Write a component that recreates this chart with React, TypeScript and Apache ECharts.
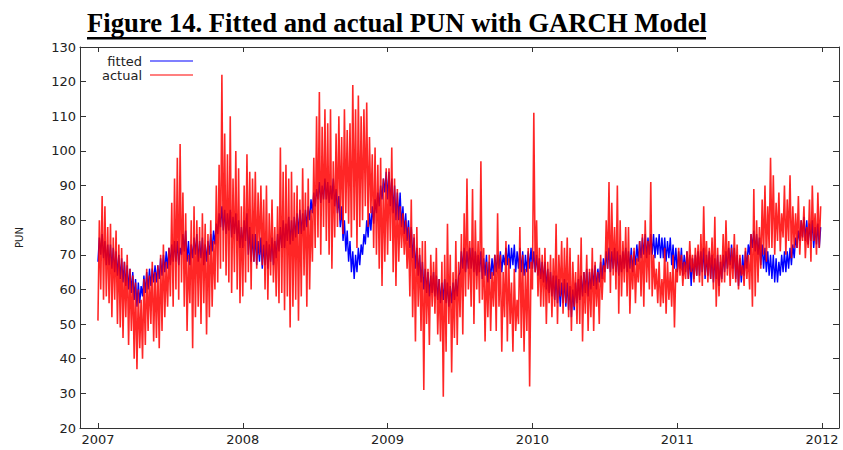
import * as echarts from "echarts";
import { useEffect, useRef } from "react";

// weekly values, one low (weekend) and one high (weekday) per week
const years = [2007, 2008, 2009, 2010, 2011];
const yearTicks = [2007, 2008, 2009, 2010, 2011, 2012];

const actualHi2007 = [80, 87, 84, 78, 79, 75, 77, 73, 72, 68, 70, 66, 64, 62, 60, 57, 63, 66, 64, 68, 65, 67, 70, 73, 68, 72, 85, 92, 98, 102, 88, 82, 70, 80, 84, 80, 78, 82, 79, 76, 80, 74, 90, 96, 122, 105, 99, 110, 92, 100, 95, 84];
const actualLo2007 = [51, 60, 57, 58, 56, 52, 57, 50, 49, 46, 52, 44, 48, 40, 37, 43, 40, 44, 48, 50, 45, 46, 43, 48, 52, 55, 58, 55, 60, 57, 62, 55, 48, 56, 43, 52, 55, 50, 56, 47, 52, 55, 60, 62, 66, 68, 64, 62, 59, 65, 60, 56];
const actualHi2008 = [90, 99, 94, 92, 94, 88, 90, 86, 90, 82, 86, 78, 84, 101, 94, 96, 92, 94, 88, 90, 86, 95, 88, 92, 83, 98, 110, 117, 107, 112, 108, 112, 97, 105, 110, 104, 112, 106, 108, 119, 112, 116, 110, 112, 114, 104, 99, 101, 96, 98, 92, 95];
const actualLo2008 = [58, 62, 65, 60, 68, 66, 70, 67, 60, 57, 64, 62, 58, 56, 59, 54, 58, 49, 55, 57, 51, 58, 64, 55, 60, 68, 72, 75, 70, 78, 74, 70, 66, 75, 78, 80, 76, 82, 79, 75, 80, 72, 78, 80, 84, 78, 82, 72, 70, 66, 61, 68];
const actualHi2009 = [95, 101, 92, 89, 84, 82, 80, 78, 86, 76, 78, 72, 74, 74, 66, 70, 68, 72, 63, 68, 70, 79, 70, 65, 74, 68, 76, 82, 92, 74, 89, 80, 74, 97, 72, 68, 70, 65, 70, 82, 70, 65, 74, 69, 62, 66, 57, 78, 70, 66, 72, 68];
const actualLo2009 = [70, 74, 65, 61, 68, 72, 70, 66, 58, 52, 45, 55, 48, 31, 50, 44, 55, 53, 47, 45, 29, 42, 50, 36, 46, 44, 52, 47, 58, 60, 55, 50, 60, 56, 57, 45, 52, 48, 55, 48, 55, 42, 52, 45, 50, 42, 48, 50, 46, 42, 48, 32];
const actualHi2010 = [111, 80, 72, 70, 72, 68, 70, 69, 79, 70, 74, 72, 75, 72, 68, 65, 70, 75, 65, 70, 66, 72, 68, 65, 70, 67, 80, 91, 85, 78, 90, 80, 74, 78, 78, 70, 72, 69, 74, 76, 80, 74, 91, 70, 66, 68, 63, 72, 68, 65, 70, 66];
const actualLo2010 = [60, 65, 58, 55, 55, 50, 56, 52, 55, 50, 58, 53, 56, 52, 48, 55, 50, 50, 45, 53, 48, 52, 48, 55, 50, 57, 62, 66, 59, 64, 60, 53, 58, 62, 58, 53, 60, 56, 62, 58, 55, 62, 60, 58, 60, 56, 55, 56, 53, 57, 55, 49];
const actualHi2011 = [72, 70, 68, 71, 74, 70, 72, 73, 76, 84, 74, 72, 75, 81, 72, 70, 76, 80, 74, 72, 76, 73, 70, 67, 72, 70, 76, 89, 80, 78, 86, 90, 84, 98, 93, 85, 88, 82, 90, 86, 93, 84, 82, 87, 80, 84, 78, 86, 90, 82, 88, 84];
const actualLo2011 = [62, 64, 61, 63, 63, 65, 62, 64, 62, 61, 64, 62, 63, 60, 55, 58, 62, 62, 64, 61, 63, 62, 60, 64, 61, 63, 60, 55, 58, 62, 66, 70, 68, 72, 72, 70, 74, 71, 75, 70, 74, 69, 72, 72, 70, 74, 69, 72, 68, 74, 70, 72];

const fittedHi2007 = [75, 76, 74, 73, 73, 72, 71, 70, 69, 68, 67, 66, 65, 63, 62, 61, 64, 65, 66, 66, 67, 67, 69, 70, 71, 72, 73, 74, 74, 72, 76, 77, 74, 73, 75, 76, 74, 75, 73, 74, 76, 77, 79, 82, 84, 83, 82, 83, 81, 82, 80, 78];
const fittedLo2007 = [68, 70, 69, 67, 67, 66, 65, 64, 63, 62, 61, 60, 59, 57, 55, 56, 58, 59, 60, 61, 62, 62, 63, 64, 65, 66, 67, 68, 68, 67, 70, 71, 68, 67, 69, 70, 68, 69, 67, 68, 70, 71, 73, 76, 78, 77, 76, 77, 75, 76, 74, 72];
const fittedHi2008 = [80, 82, 78, 76, 76, 74, 75, 73, 74, 73, 75, 74, 76, 78, 80, 79, 81, 80, 81, 82, 83, 82, 83, 84, 86, 88, 89, 91, 90, 92, 91, 90, 92, 89, 87, 84, 80, 77, 74, 71, 70, 72, 73, 76, 80, 82, 84, 86, 88, 90, 92, 94];
const fittedLo2008 = [72, 74, 70, 68, 68, 67, 68, 66, 67, 66, 68, 67, 69, 71, 72, 72, 74, 73, 74, 75, 76, 76, 77, 78, 80, 82, 84, 86, 85, 86, 86, 85, 86, 84, 82, 78, 74, 71, 68, 65, 63, 65, 67, 70, 73, 75, 77, 79, 82, 84, 86, 88];
const fittedHi2009 = [94, 92, 90, 88, 88, 84, 82, 80, 78, 75, 72, 70, 68, 66, 65, 64, 65, 64, 63, 62, 63, 62, 61, 62, 63, 64, 71, 72, 71, 72, 72, 71, 70, 71, 69, 70, 68, 69, 70, 70, 71, 70, 72, 73, 72, 73, 71, 72, 71, 70, 71, 72];
const fittedLo2009 = [86, 84, 82, 80, 80, 78, 76, 74, 72, 69, 66, 64, 62, 60, 59, 58, 59, 58, 57, 56, 57, 56, 55, 56, 57, 58, 65, 66, 65, 66, 66, 65, 64, 65, 63, 64, 62, 63, 64, 65, 66, 65, 67, 67, 66, 67, 65, 66, 65, 64, 65, 66];
const fittedHi2010 = [71, 70, 69, 68, 68, 66, 65, 64, 64, 63, 62, 63, 62, 61, 60, 62, 63, 64, 65, 66, 65, 66, 67, 66, 68, 69, 71, 72, 71, 72, 71, 70, 71, 72, 71, 72, 71, 73, 74, 75, 76, 75, 76, 76, 75, 76, 75, 75, 74, 75, 73, 72];
const fittedLo2010 = [66, 65, 64, 63, 62, 60, 59, 58, 57, 56, 55, 56, 55, 54, 52, 54, 56, 57, 58, 59, 58, 60, 61, 60, 62, 63, 65, 66, 65, 66, 65, 64, 65, 66, 65, 66, 65, 67, 68, 69, 70, 69, 70, 70, 69, 70, 69, 69, 68, 69, 67, 66];
const fittedHi2011 = [71, 72, 70, 71, 70, 69, 70, 71, 71, 72, 70, 71, 70, 69, 70, 68, 70, 71, 72, 73, 72, 70, 69, 70, 71, 73, 76, 77, 76, 75, 73, 72, 71, 70, 70, 69, 68, 70, 71, 71, 72, 73, 75, 77, 80, 81, 80, 79, 80, 78, 79, 78];
const fittedLo2011 = [65, 66, 64, 65, 63, 61, 63, 64, 64, 65, 63, 64, 63, 62, 63, 61, 63, 65, 66, 67, 66, 63, 61, 62, 64, 66, 70, 72, 71, 70, 67, 66, 65, 64, 63, 62, 62, 64, 65, 65, 66, 67, 69, 72, 74, 75, 74, 73, 74, 72, 73, 72];

const actualHi = [actualHi2007, actualHi2008, actualHi2009, actualHi2010, actualHi2011];
const actualLo = [actualLo2007, actualLo2008, actualLo2009, actualLo2010, actualLo2011];
const fittedHi = [fittedHi2007, fittedHi2008, fittedHi2009, fittedHi2010, fittedHi2011];
const fittedLo = [fittedLo2007, fittedLo2008, fittedLo2009, fittedLo2010, fittedLo2011];

const toSeries = (his: number[][], los: number[][]) => {
  const out: [number, number][] = [];
  years.forEach((yr, y) => {
    his[y].forEach((hi, w) => {
      out.push([yr + w / 52, los[y][w]]);
      out.push([yr + (w + 0.5) / 52, hi]);
    });
  });
  return out;
};

const axisColor = "#333";
const labelFont = "DejaVu Sans";

const App = () => {
  const chartRef = useRef<HTMLDivElement>(null);

  useEffect(() => {
    if (!chartRef.current) return;
    const chart = echarts.init(chartRef.current, undefined, { renderer: "svg" });

    const xBase = {
      type: "value",
      min: 2006.876,
      max: 2012.117,
      axisLine: { onZero: false, lineStyle: { color: axisColor } },
      axisTick: { inside: true, length: 5, customValues: yearTicks, lineStyle: { color: axisColor } },
      splitLine: { show: false },
    };

    chart.setOption({
      animation: false,
      backgroundColor: "#fff",
      grid: { left: 80, top: 47, right: 4, bottom: 22 },
      xAxis: [
        {
          ...xBase,
          axisLabel: {
            customValues: yearTicks,
            formatter: (v: number) => String(Math.round(v)),
            color: "#222",
            fontFamily: labelFont,
            fontSize: 13,
            margin: 5,
          },
        },
        { ...xBase, position: "top", axisLabel: { show: false } },
      ],
      yAxis: [
        {
          type: "value",
          min: 20,
          max: 130,
          interval: 10,
          name: "PUN",
          nameLocation: "middle",
          nameGap: 56,
          nameRotate: 90,
          nameTextStyle: { color: "#222", fontFamily: labelFont, fontSize: 10 },
          axisLine: { show: true, onZero: false, lineStyle: { color: axisColor } },
          axisTick: { show: true, inside: true, length: 6, lineStyle: { color: axisColor } },
          axisLabel: { color: "#222", fontFamily: labelFont, fontSize: 13, margin: 4 },
          splitLine: { show: false },
        },
        {
          type: "value",
          position: "right",
          min: 20,
          max: 130,
          interval: 10,
          axisLine: { show: true, onZero: false, lineStyle: { color: axisColor } },
          axisTick: { show: true, inside: true, length: 6, lineStyle: { color: axisColor } },
          axisLabel: { show: false },
          splitLine: { show: false },
        },
      ],
      graphic: [
        {
          type: "text",
          left: 87,
          top: 9,
          style: {
            text: "Figure 14. Fitted and actual PUN with GARCH Model",
            font: "bold 26.7px 'Liberation Serif'",
            fill: "#000",
          },
        },
        { type: "rect", left: 87, top: 37, shape: { width: 619, height: 2.5 }, style: { fill: "#000" } },
        {
          type: "text",
          x: 142,
          y: 61,
          style: { text: "fitted", font: "13px 'DejaVu Sans'", fill: "#222", align: "right", verticalAlign: "middle" },
        },
        {
          type: "text",
          x: 142,
          y: 75,
          style: { text: "actual", font: "13px 'DejaVu Sans'", fill: "#222", align: "right", verticalAlign: "middle" },
        },
        { type: "line", shape: { x1: 150, y1: 61, x2: 193, y2: 61 }, style: { stroke: "#0000ff", lineWidth: 1.2 } },
        { type: "line", shape: { x1: 150, y1: 75, x2: 193, y2: 75 }, style: { stroke: "#ff0000", lineWidth: 1.2 } },
      ],
      series: [
        {
          name: "fitted",
          type: "line",
          data: toSeries(fittedHi, fittedLo),
          showSymbol: false,
          lineStyle: { color: "#0000ff", width: 1.4 },
          itemStyle: { color: "#0000ff" },
        },
        {
          name: "actual",
          type: "line",
          data: toSeries(actualHi, actualLo),
          showSymbol: false,
          lineStyle: { color: "#ff0000", width: 1.6, opacity: 0.85 },
          itemStyle: { color: "#ff0000" },
        },
      ],
    });

    return () => chart.dispose();
  }, []);

  return <div ref={chartRef} style={{ position: "fixed", left: 0, top: 0, width: 843, height: 450 }} />;
};

export default App;
